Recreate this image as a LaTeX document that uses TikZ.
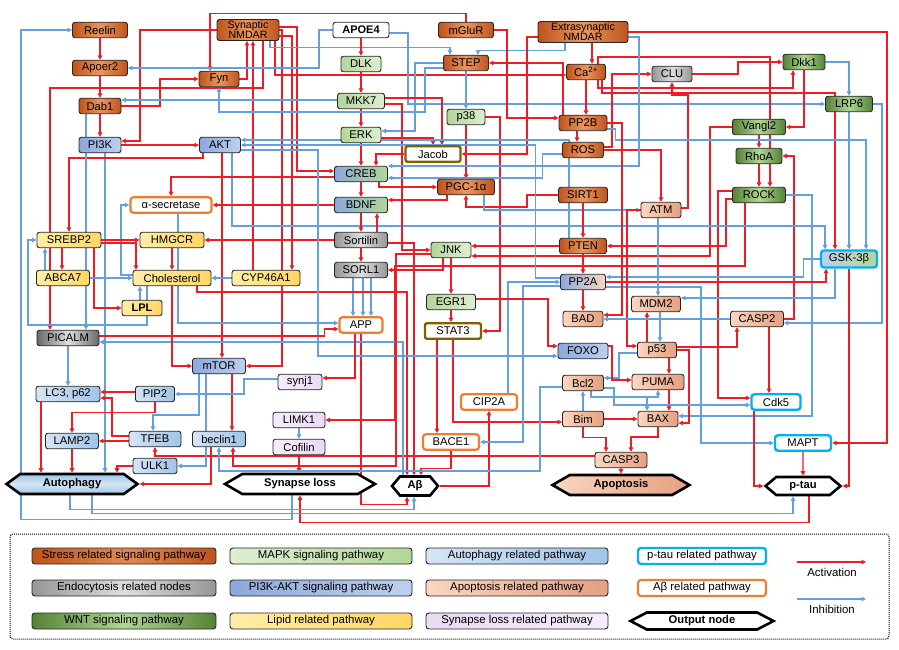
\documentclass[tikz,border=0pt]{standalone}
\usepackage{fontspec}
\setmainfont{Liberation Sans}
\usetikzlibrary{arrows.meta,shapes.symbols}
\pgfdeclarelayer{bg}
\pgfsetlayers{bg,main}
\definecolor{actred}{RGB}{238,28,36}
\definecolor{inhblue}{RGB}{100,160,220}
\definecolor{stL}{RGB}{190,84,28}
\definecolor{stR}{RGB}{234,150,96}
\definecolor{mpL}{RGB}{178,214,152}
\definecolor{mpR}{RGB}{222,238,210}
\definecolor{auL}{RGB}{212,229,245}
\definecolor{auR}{RGB}{160,196,232}
\definecolor{piL}{RGB}{140,168,220}
\definecolor{piR}{RGB}{190,208,238}
\definecolor{apL}{RGB}{250,214,192}
\definecolor{apR}{RGB}{228,160,128}
\definecolor{wnL}{RGB}{84,130,53}
\definecolor{wnR}{RGB}{176,214,148}
\definecolor{lpL}{RGB}{255,238,166}
\definecolor{lpR}{RGB}{255,214,100}
\definecolor{syL}{RGB}{246,236,251}
\definecolor{syR}{RGB}{234,218,245}
\definecolor{enL}{RGB}{150,150,150}
\definecolor{enR}{RGB}{222,222,222}
\definecolor{pdL}{RGB}{105,105,105}
\definecolor{ptaucol}{RGB}{0,176,240}
\definecolor{abcol}{RGB}{237,125,49}
\definecolor{brn}{RGB}{128,96,0}
\tikzset{
 bx/.style={rounded corners=2.5pt, draw=black!85, line width=0.9pt, minimum height=15.5pt, inner sep=1pt, font=\fontsize{11.2}{11.5}\selectfont, align=center},
 stress/.style={bx, left color=stL, right color=stL, middle color=stR},
 mapk/.style={bx, left color=mpL, right color=mpR},
 autoph/.style={bx, left color=auL, right color=auR},
 pik/.style={bx, left color=piL, right color=piR},
 apop/.style={bx, left color=apL, right color=apR},
 wnt/.style={bx, left color=wnL, right color=wnL, middle color=wnR},
 lipid/.style={bx, left color=lpL, right color=lpR},
 synl/.style={bx, left color=syL, right color=syR},
 endo/.style={bx, left color=enL, right color=enL, middle color=enR},
 ptaub/.style={bx, draw=ptaucol, line width=2.4pt, fill=white, rounded corners=3pt},
 abb/.style={bx, draw=abcol, line width=2.2pt, fill=white, rounded corners=3pt},
 brnb/.style={bx, draw=brn, line width=2.4pt, fill=white, rounded corners=2pt},
 outn/.style={signal, signal to=east and west, draw=black, line width=2.6pt, minimum height=19pt, inner sep=1pt, font=\bfseries\fontsize{11.2}{11.5}\selectfont},
 act/.style={draw=actred, line width=1.1pt, -{Triangle[length=4.5pt,width=4.5pt]}},
 inh/.style={draw=inhblue, line width=1.1pt, -{Triangle[length=4.5pt,width=4.5pt]}},
 lg/.style={rounded corners=3pt, draw=black!85, line width=0.9pt, minimum height=16pt, inner sep=1pt, font=\fontsize{11.4}{12}\selectfont},
}
\begin{document}
\begin{tikzpicture}[x=1pt,y=-1pt]
\useasboundingbox (0,0) rectangle (899,650);
% ---------- nodes
\node[stress, minimum width=55pt] (Reelin) at (100,30) {Reelin};
\node[stress, minimum width=55pt] (Apoer2) at (100,68) {Apoer2};
\node[stress, minimum width=42pt] (Dab1) at (100,106) {Dab1};
\node[pik, minimum width=42pt] (PI3K) at (100,145) {PI3K};
\node[stress, minimum width=40pt] (Fyn) at (219,79) {Fyn};
\node[pik, minimum width=41pt] (AKT) at (220,145) {AKT};
\node[stress, minimum width=62pt, minimum height=21pt, font=\fontsize{10.6}{10.2}\selectfont] (SynN) at (248,30) {Synaptic\\NMDAR};
\node[bx, fill=white, minimum width=56pt, font=\bfseries\fontsize{11}{11.5}\selectfont] (APOE4) at (361,30) {APOE4};
\node[mapk, minimum width=40pt] (DLK) at (361,64) {DLK};
\node[mapk, minimum width=47pt] (MKK7) at (361,101) {MKK7};
\node[mapk, minimum width=40pt] (ERK) at (361,135) {ERK};
\node[stress, minimum width=55pt] (mGluR) at (466,30) {mGluR};
\node[stress, minimum width=45pt] (STEP) at (466,63) {STEP};
\node[mapk, minimum width=38pt] (p38) at (466,117) {p38};
\node[brnb, minimum width=55pt] (Jacob) at (433,154) {Jacob};
\node[stress, minimum width=90pt, minimum height=21pt, font=\fontsize{10.6}{10.2}\selectfont] (ExtN) at (583,32) {Extrasynaptic\\NMDAR};
\node[stress, minimum width=39pt] (Ca) at (586,72) {Ca\textsuperscript{2+}};
\node[stress, minimum width=48pt] (PP2B) at (583,123) {PP2B};
\node[stress, minimum width=41pt] (ROS) at (583,150) {ROS};
\node[endo, minimum width=40pt] (CLU) at (672,74) {CLU};
\node[wnt, minimum width=42pt] (Dkk1) at (804,62) {Dkk1};
\node[wnt, minimum width=47pt] (LRP6) at (849,104) {LRP6};
\node[wnt, minimum width=53pt] (Vangl2) at (759,127) {Vangl2};
\node[wnt, minimum width=46pt] (RhoA) at (759,156) {RhoA};
\node[wnt, minimum width=53pt] (ROCK) at (759,195) {ROCK};
\node[bx, left color=piL, right color=mpL, minimum width=53pt] (CREB) at (361,174) {CREB};
\node[stress, minimum width=57pt] (PGC) at (466,187) {PGC-1α};
\node[bx, left color=piL, right color=mpL, minimum width=53pt] (BDNF) at (361,205) {BDNF};
\node[endo, minimum width=53pt] (Sortilin) at (361,240) {Sortilin};
\node[endo, minimum width=53pt] (SORL1) at (361,270) {SORL1};
\node[mapk, minimum width=40pt] (JNK) at (451,250) {JNK};
\node[mapk, minimum width=49pt] (EGR1) at (451,302) {EGR1};
\node[stress, minimum width=49pt] (SIRT1) at (583,195) {SIRT1};
\node[stress, minimum width=47pt] (PTEN) at (583,246) {PTEN};
\node[bx, left color=piL, right color=apL, minimum width=45pt] (PP2A) at (583,282) {PP2A};
\node[apop, minimum width=40pt] (BAD) at (583,319) {BAD};
\node[apop, minimum width=40pt] (ATM) at (661,210) {ATM};
\node[bx, draw=ptaucol, line width=2.4pt, rounded corners=3pt, left color=piR, right color=mpL, minimum width=56pt, minimum height=17pt] (GSK) at (849,259) {GSK-3β};
\node[apop, minimum width=49pt] (MDM2) at (656,304) {MDM2};
\node[apop, minimum width=53pt] (CASP2) at (757,319) {CASP2};
\node[abb, minimum width=81pt] (asec) at (171,205) {α-secretase};
\node[lipid, minimum width=64pt] (SREBP2) at (69,240) {SREBP2};
\node[lipid, minimum width=64pt] (HMGCR) at (172,240) {HMGCR};
\node[lipid, minimum width=53pt] (ABCA7) at (63,278) {ABCA7};
\node[lipid, minimum width=78pt] (Chol) at (172,278) {Cholesterol};
\node[lipid, minimum width=68pt] (CYP) at (266,278) {CYP46A1};
\node[lipid, minimum width=40pt, font=\bfseries\fontsize{11}{11.5}\selectfont] (LPL) at (142,308) {LPL};
\node[bx, left color=pdL, right color=pdL, middle color=enR, minimum width=62pt] (PICALM) at (68,338) {PICALM};
\node[pik, minimum width=53pt] (mTOR) at (219,366) {mTOR};
\node[autoph, minimum width=64pt] (LC3) at (68,394) {LC3, p62};
\node[autoph, minimum width=39pt] (PIP2) at (155,394) {PIP2};
\node[autoph, minimum width=52pt] (TFEB) at (155,439) {TFEB};
\node[autoph, minimum width=53pt] (LAMP2) at (72,441) {LAMP2};
\node[autoph, minimum width=53pt] (beclin1) at (219,439) {beclin1};
\node[autoph, minimum width=44pt] (ULK1) at (155,466) {ULK1};
\node[synl, minimum width=44pt] (synj1) at (300,382) {synj1};
\node[synl, minimum width=52pt] (LIMK1) at (299,420) {LIMK1};
\node[synl, minimum width=52pt] (Cofilin) at (299,447) {Cofilin};
\node[abb, minimum width=43pt] (APP) at (361,325) {APP};
\node[brnb, minimum width=56pt] (STAT3) at (453,331) {STAT3};
\node[pik, minimum width=50pt] (FOXO) at (583,351) {FOXO};
\node[apop, minimum width=41pt] (Bcl2) at (583,383) {Bcl2};
\node[abb, minimum width=56pt] (CIP2A) at (489,402) {CIP2A};
\node[apop, minimum width=41pt] (Bim) at (583,419) {Bim};
\node[abb, minimum width=56pt] (BACE1) at (451,442) {BACE1};
\node[apop, minimum width=39pt] (p53) at (657,350) {p53};
\node[apop, minimum width=52pt] (PUMA) at (658,382) {PUMA};
\node[apop, minimum width=40pt] (BAX) at (658,419) {BAX};
\node[apop, minimum width=52pt] (CASP3) at (621,460) {CASP3};
\node[ptaub, minimum width=49pt] (Cdk5) at (776,402) {Cdk5};
\node[ptaub, minimum width=56pt] (MAPT) at (803,443) {MAPT};
\node[outn, top color=auR, bottom color=auR, middle color=auL, minimum width=131pt, minimum height=20pt, signal pointer angle=72] (Autophagy) at (72,484) {Autophagy};
\node[outn, fill=white, minimum width=150pt, minimum height=20pt, signal pointer angle=60] (SynLoss) at (300,484) {Synapse loss};
\node[outn, fill=white, minimum width=46pt, minimum height=19pt, signal pointer angle=100] (Abeta) at (415,486) {Aβ};
\node[outn, left color=apL, right color=apR, minimum width=137pt, minimum height=20pt, signal pointer angle=60] (Apoptosis) at (621,485) {Apoptosis};
\node[outn, fill=white, minimum width=75pt, minimum height=18pt, signal pointer angle=80] (ptau) at (803,486) {p-tau};
% ---------- legend
\draw[densely dotted, line width=1pt, rounded corners=3pt] (10,534) rectangle (889,639);
\node[lg, left color=stL, right color=stL, middle color=stR!80!stL, minimum width=184pt] (L1) at (124,556) {Stress related signaling pathway};
\node[lg, left color=enL, right color=enL, middle color=enR, minimum width=184pt] (L2) at (124,588) {Endocytosis related nodes};
\node[lg, left color=wnL, right color=wnL, middle color=wnR, minimum width=184pt] (L3) at (124,621) {WNT signaling pathway};
\node[lg, left color=mpR, right color=mpL, minimum width=182pt] (L4) at (321,556) {MAPK signaling pathway};
\node[lg, left color=piL, right color=piR, minimum width=182pt] (L5) at (321,588) {PI3K-AKT signaling pathway};
\node[lg, left color=lpL, right color=lpR, minimum width=182pt] (L6) at (321,621) {Lipid related pathway};
\node[lg, left color=auL, right color=auR, minimum width=182pt] (L7) at (517,556) {Autophagy related pathway};
\node[lg, left color=apL, right color=apR, minimum width=182pt] (L8) at (517,588) {Apoptosis related pathway};
\node[lg, left color=syR, right color=syL, minimum width=182pt] (L9) at (517,621) {Synapse loss related pathway};
\node[lg, draw=ptaucol, line width=2.4pt, fill=white, minimum width=128pt] (L10) at (702,556) {p-tau related pathway};
\node[lg, draw=abcol, line width=2.2pt, fill=white, minimum width=128pt] (L11) at (702,588) {Aβ related pathway};
\node[outn, fill=white, minimum width=143pt, minimum height=17pt, signal pointer angle=55] (L12) at (702,621) {Output node};
\coordinate (aS) at (797,562);
\coordinate (aE) at (866,562);
\coordinate (iS) at (797,599);
\coordinate (iE) at (866,599);
\draw[act, line width=1.6pt] (aS) -- (aE);
\draw[inh, line width=1.6pt] (iS) -- (iE);
\node[font=\fontsize{11.4}{12}\selectfont] (aT) at (832,572) {Activation};
\node[font=\fontsize{11.4}{12}\selectfont] (iT) at (832,609) {Inhibition};
% ---------- connectors
\begin{pgfonlayer}{bg}
\fill[white] (0,0) rectangle (899,650);
% top-left
\draw[act] (Reelin) -- (Apoer2);
\draw[act] (Apoer2) -- (Dab1);
\draw[act] (Dab1) -- (PI3K);
\draw[act] (Dab1.east) -| (160,79) -- (Fyn.west);
\draw[act] (SynN.west) -| (140,141) -- ([yshift=4pt]PI3K.east);
\draw[act] (PI3K) -- (AKT);
\draw[act] (Fyn.east) -| ([xshift=-1pt]SynN.south);
\draw[act] (mGluR.north) -- ++(0,-8) -| ([xshift=-9pt]Fyn.north);
\draw[act] ([xshift=-13pt]CYP.north) -- ([xshift=5pt]SynN.south);
\draw[act] ([xshift=15pt]SynN.south) |- (50,88) -- ([xshift=-18pt]PICALM.north);
\draw[act] (SynN.east) -| (282,366) -- (mTOR.east);
\draw[act] ([yshift=3pt]SynN.east) -| (297,171) -- ([yshift=3pt]CREB.west);
\draw[act] ([yshift=-6pt]SynN.east) -| ([xshift=26pt]CYP.north);
\draw[act] ([xshift=27pt]SynN.south) |- ([yshift=-3pt]Ca.west);
\draw[inh] ([xshift=22pt]SynN.south) -- ++(0,7) -| ([xshift=-16pt]STEP.north);
\draw[inh] ([xshift=5pt]PI3K.south) -- ([xshift=33pt]Autophagy.north);
% APOE4 column
\draw[act] (APOE4) -- (DLK);
\draw[act] (DLK) -- (MKK7);
\draw[act] (MKK7) -- (ERK);
\draw[act] (ERK) -- (CREB);
\draw[act] (CREB) -- (BDNF);
\draw[inh] (APOE4.west) -| (319,68) -- (Apoer2.east);
\draw[inh] ([yshift=-3pt]APOE4.east) -| (408,104) -- (LRP6.west);
\draw[inh] ([yshift=1pt]MKK7.west) -- ([yshift=6pt]Dab1.east);
% STEP / NMDAR
\draw[inh] ([xshift=-18pt]ExtN.south) -- ++(0,8) -| ([xshift=12pt]STEP.north);
\draw[inh] (STEP.west) -| (415,131) -- ([yshift=4pt]ERK.east);
\draw[inh] ([yshift=-5pt]STEP.west) -| (425,112) -| (Fyn.south);
\draw[inh] (STEP) -- (p38);
\draw[act] (mGluR.east) -| (507,118) -- ([yshift=5pt]PP2B.west);
\draw[act] ([xshift=-20pt]PP2B.north) |- (STEP.east);
\draw[act] ([yshift=-5pt]ExtN.west) -| (527,154) -- (Jacob.east);
\draw[act] (p38.east) -| (500,331) -- (STAT3.east);
\draw[act] (p38) -- (PGC);
\draw[act] ([xshift=9pt]ExtN.south) -- ([xshift=6pt]Ca.north);
\draw[act] (Ca.south) -- ([xshift=3pt]PP2B.north);
\draw[act] ([xshift=-6pt]PP2B.south) -- ([xshift=-6pt]ROS.north);
\draw[act] ([xshift=12pt]Ca.south) |- (793,88) -- ([xshift=-11pt]Dkk1.south);
\draw[act] ([xshift=16pt]Ca.south) |- (835,93) -- ([xshift=-14pt]GSK.north);
\draw[act] ([xshift=12pt]Ca.north) |- (770,57) -- ([xshift=11pt]ROCK.north);
\draw[act] ([yshift=3pt]ROS.east) -| (612,74) -- (CLU.west);
\draw[act] (ROS.east) -| (ATM.north);
\draw[act] ([yshift=2pt]ATM.east) -| (688,95) -| (CLU.south);
\draw[act] (CLU.east) -| (738,62) -- (Dkk1.west);
% WNT
\draw[act] (Dkk1.south) |- (Vangl2.east);
\draw[inh] (Dkk1.east) -| (LRP6.north);
\draw[act] (Vangl2) -- (RhoA);
\draw[act] (RhoA) -- (ROCK);
\draw[act] (CASP2.east) -| (794,156) -- (RhoA.east);
\draw[act] (Vangl2.west) -| (710,256) -- ([yshift=-6pt]JNK.east);
\draw[act] ([yshift=-4pt]ROCK.west) -| (726,246) -- (PTEN.east);
\draw[act] ([yshift=4pt]ROCK.west) -| (718,398) -- ([yshift=4pt]Cdk5.west);
\draw[act] ([xshift=-14pt]ROCK.south) |- (395,266) |- (LIMK1.east);
\draw[inh] (ROCK.east) -| (812,416) -- ([yshift=3pt]BAX.east);
\draw[inh] (LRP6) -- (GSK);
\draw[inh] (LRP6.east) -| (882,323) -- ([yshift=-4pt]CASP2.east);
\draw[inh] ([yshift=-6pt]PP2B.east) -- ++(8,0) |- (866,140) -- ([xshift=17pt]GSK.north);
\draw[inh] ([xshift=12pt]AKT.south) |- (825,226) -- ([xshift=-24pt]GSK.north);
% synapse
\draw[inh] (LIMK1) -- (Cofilin);
\draw[act] (Cofilin.south) -- (Cofilin.south |- SynLoss.north);
% CREB area
\draw[act] ([xshift=18pt]CREB.south) |- (PGC.west);
\draw[act] ([xshift=-19pt]PGC.south) |- ([yshift=5pt]BDNF.east);
\draw[act] (SIRT1.west) -| (527,207) -| (PGC.south);
\draw[inh] ([xshift=18pt]PGC.south) |- (ATM.west);
\draw[act] (Jacob.west) -| ([xshift=15pt]CREB.north);
\draw[act] ([yshift=-3pt]ERK.east) -| (Jacob.north);
\draw[act] ([yshift=3pt]MKK7.east) -| ([xshift=9pt]Jacob.north);
\draw[act] ([yshift=-3pt]MKK7.east) -| (402,250) -- (JNK.west);
\draw[inh] ([yshift=-4pt]ROS.west) -- ++(-20,0) |- ([yshift=-4pt]CREB.east);
\draw[inh] ([yshift=-5pt]ExtN.east) -| (639,166) -- ([yshift=8pt]CREB.east);
\draw[act] ([yshift=-3pt]CREB.west) -| (asec.north);
\draw[act] (BDNF.west) -- (asec.east);
\draw[act] (BDNF) -- (Sortilin);
\draw[act] ([xshift=16pt]Sortilin.north) -- ([xshift=16pt]BDNF.south);
\draw[act] (Sortilin) -- (SORL1);
\draw[act] (Sortilin.west) -- (HMGCR.east);
\draw[inh] ([xshift=-8pt]SORL1.south) -- ([xshift=-8pt]APP.north);
\draw[inh] ([xshift=2pt]SORL1.south) -- ([xshift=2pt]APP.north);
\draw[inh] ([xshift=10pt]SORL1.south) -- ([xshift=10pt]APP.north);
\draw[act] ([yshift=-3pt]Sortilin.east) -| ([xshift=-1pt]Abeta.north);
% JNK etc
\draw[act] (JNK) -- (EGR1);
\draw[act] ([xshift=-8pt]JNK.south) |- (SORL1.east);
\draw[act] (PTEN.west) -- ([yshift=4pt]JNK.east);
\draw[act] (EGR1.south) -- (EGR1.south |- STAT3.north);
\draw[act] ([xshift=-16pt]STAT3.south) -- ([xshift=-14pt]BACE1.north);
\draw[act] (STAT3.south) |- ([yshift=-3pt]Bim.west);
\draw[act] (BACE1.south) -- ++(0,18) -| ([xshift=6pt]Abeta.north);
\draw[act] (APP.south) -- ++(0,171) -| ([xshift=-8pt]Abeta.south);
\draw[act] ([xshift=25pt]Chol.south) |- (407,292) -- ([xshift=-8pt]Abeta.north);
\draw[act] (Abeta.east) -| (CIP2A.south);
\draw[inh] ([xshift=19pt]CIP2A.north) |- (PP2A.west);
\draw[inh] ([yshift=-4pt]PP2A.west) -| (523,442) -- (BACE1.east);
\draw[inh] (GSK.west) -- ++(-16,0) |- ([yshift=5pt]PP2A.east);
\draw[act] (PP2A.east) -| ([xshift=-23pt]GSK.south);
\draw[inh] ([yshift=-5pt]PP2A.east) -| (701,443) -- (MAPT.west);
\draw[act] (GSK.south) |- (ptau.east);
\draw[inh] ([xshift=-14pt]GSK.south) |- ([yshift=6pt]MDM2.east);
% PTEN / AKT
\draw[inh] ([xshift=-14pt]PTEN.north) |- ([yshift=5pt]AKT.east);
\draw[inh] ([yshift=4pt]PP2A.west) -- ++(-25,0) |- (AKT.east);
\draw[inh] ([yshift=-5pt]AKT.east) -| (318,356) -- ([yshift=-5pt]FOXO.west);
\draw[act] ([xshift=-17pt]AKT.south) |- (69,158) -- (SREBP2.north);
\draw[act] ([xshift=2pt]AKT.south) -- ([xshift=3pt]mTOR.north);
\draw[act] (SIRT1) -- (PTEN);
\draw[act] (PTEN) -- (PP2A);
\draw[act] (PP2A) -- (BAD);
\draw[act] (PP2B.east) -| (622,315) -- ([yshift=4pt]BAD.east);
% apoptosis
\draw[inh] ([xshift=-3pt]ATM.south) -- ([xshift=2pt]MDM2.north);
\draw[inh] ([xshift=4pt]MDM2.south) -- ([xshift=3pt]p53.north);
\draw[act] ([xshift=-10pt]p53.north) -- ([xshift=-9pt]MDM2.south);
\draw[act] (ATM.west) -| (627,346) -- ([yshift=4pt]p53.west);
\draw[inh] ([yshift=-3pt]p53.west) -| (619,378) -- ([yshift=5pt]Bcl2.east);
\draw[act] ([xshift=12pt]p53.south) -- ([xshift=11pt]PUMA.north);
\draw[act] ([xshift=11pt]PUMA.south) -- ([xshift=11pt]BAX.north);
\draw[act] (p53.east) -| (689,423) -- ([yshift=-4pt]BAX.east);
\draw[act] ([yshift=3pt]p53.east) -| ([xshift=-20pt]CASP2.south);
\draw[act] ([yshift=5pt]FOXO.east) -| (612,380) -- ([yshift=2pt]PUMA.west);
\draw[act] ([yshift=3pt]EGR1.east) -| (548,346) -- ([yshift=5pt]FOXO.west);
\draw[inh] (Bim.north) -- (Bcl2.south);
\draw[inh] ([xshift=8pt]Bcl2.south) |- (647,397) -- ([xshift=-11pt]BAX.north);
\draw[inh] ([xshift=8pt]Bcl2.south) |- (658,397) -- (PUMA.south);
\draw[inh] ([yshift=-5pt]Bcl2.east) -- ++(10,0) |- ([yshift=-3pt]Cdk5.west);
\draw[act] (Bim.east) -- (BAX.west);
\draw[act] (Bim.south) -- ++(0,10) -| ([xshift=-15pt]CASP3.north);
\draw[act] (BAX.south) |- (631,437) -- ([xshift=10pt]CASP3.north);
\draw[act] (CASP3) -- (Apoptosis);
\draw[act] ([yshift=4pt]CASP3.west) -| (TFEB.south);
\draw[inh] ([yshift=-4pt]Bcl2.west) -| (540,471) -| (beclin1.south);
\draw[inh] (CASP2.west) -- (BAD.east);
\draw[act] ([xshift=12pt]CASP2.south) -- ([xshift=-7pt]Cdk5.north);
\draw[act] ([xshift=-22pt]Cdk5.south) |- (ptau.west);
\draw[act] (MAPT) -- (ptau);
\draw[act] (ExtN.east) -| (887,443) -- (MAPT.east);
% lipid / autophagy
\draw[inh] (PICALM) -- (LC3);
\draw[inh] ([xshift=-14pt]Dab1.south) -- ([xshift=18pt]PICALM.north);
\draw[act] ([yshift=2pt]PICALM.east) -- ++(225,0) |- ([yshift=-4pt]APP.west);
\draw[inh] ([xshift=-12pt]Abeta.north) |- ([yshift=-4pt]PICALM.east);
\draw[inh] ([xshift=7pt]asec.south) |- ([yshift=2pt]APP.west);
\draw[inh] ([yshift=3pt]Chol.west) -| (121,205) -- (asec.west);
\draw[inh] ([xshift=-25pt]Chol.south) |- (28,325) |- (SREBP2.west);
\draw[act] (SREBP2) -- (HMGCR);
\draw[act] ([yshift=-3pt]SREBP2.east) -| ([xshift=-36pt]Chol.north);
\draw[act] ([xshift=-7pt]SREBP2.south) -- ([xshift=-1pt]ABCA7.north);
\draw[inh] ([xshift=-18pt]ABCA7.north) -- ([xshift=-24pt]SREBP2.south);
\draw[act] ([xshift=25pt]SREBP2.south) |- (LPL.west);
\draw[act] (HMGCR) -- (Chol);
\draw[inh] (ABCA7) -- (Chol);
\draw[inh] (CYP) -- (Chol);
\draw[inh] ([xshift=-2pt]LPL.north) -- ([xshift=-32pt]Chol.south);
\draw[act] (Chol.south) |- (mTOR.west);
\draw[act] ([xshift=13pt]mTOR.south) -- ([xshift=13pt]beclin1.north);
\draw[inh] ([xshift=-20pt]mTOR.south) |- (153,415) -- ([xshift=-2pt]TFEB.north);
\draw[inh] ([xshift=-13pt]mTOR.south) |- (ULK1.east);
\draw[inh] ([yshift=3pt]synj1.west) -| (244,394) -- (PIP2.east);
\draw[act] ([yshift=2pt]PIP2.west) -- ([yshift=2pt]LC3.east);
\draw[act] (PIP2.south) -- ++(0,10) -| (LAMP2.north);
\draw[act] ([yshift=3pt]TFEB.west) -| (112,398) -- ([yshift=-4pt]LC3.east);
\draw[act] ([yshift=-2pt]TFEB.west) -- (LAMP2.east);
\draw[act] ([xshift=-27pt]LC3.south) -- ([xshift=-31pt]Autophagy.north);
\draw[act] (LAMP2.south) -- (Autophagy.north);
\draw[act] (ULK1.west) -| ([xshift=45pt]Autophagy.north);
\draw[act] ([xshift=-8pt]beclin1.south) |- (Autophagy.east);
\draw[act] ([yshift=-4pt]JNK.west) -| (396,466) -| ([xshift=14pt]beclin1.south);
\draw[act] ([xshift=-6pt]APP.south) |- ([yshift=4pt]synj1.east);
% outputs feedback
\draw[inh] ([xshift=-8pt]SynLoss.south) -- ++(0,24) -| (21,30) -- (Reelin.west);
\draw[act] ([xshift=6pt]ptau.south) -- ++(0,26) -| (SynLoss.south);
\draw[inh] ([xshift=20pt]Autophagy.south) -- ++(0,18) -| ([xshift=-10pt]ptau.south);
\draw[inh] ([xshift=-2pt]Autophagy.south) -- ++(0,14) -| ([xshift=-1pt]Abeta.south);
\end{pgfonlayer}
\end{tikzpicture}
\end{document}
